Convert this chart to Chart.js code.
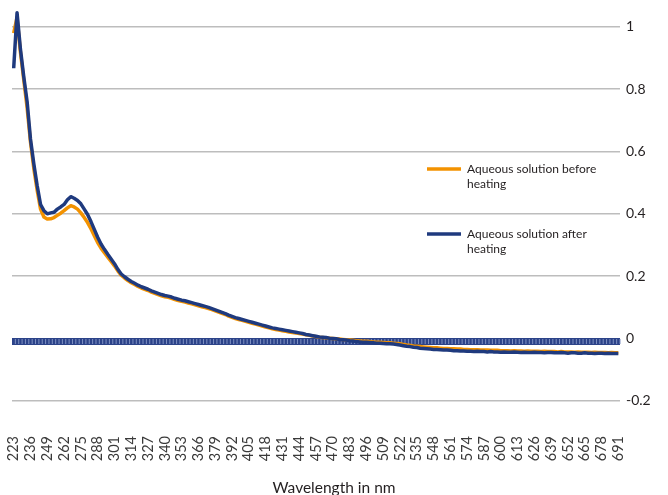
<!DOCTYPE html>
<html>
<head>
<meta charset="utf-8">
<script src="https://cdn.jsdelivr.net/npm/chart.js@4/dist/chart.umd.min.js"></script>
<style>
    html, body { margin: 0; padding: 0; background: #fff; }
    #wrap { width: 668px; height: 495px; }
</style>
</head>
<body>
<div id="wrap"><canvas id="spectrumChart" width="668" height="495"></canvas></div>
<script>
// Data

// categories: one reading every 2.6 nm from 223 to 691
const wavelengths = Array.from({ length: 181 }, (_, i) => Math.round((223 + i * 2.6) * 10) / 10);

// labels the axis shows (every 5th category)
const tickLabels = [223, 236, 249, 262, 275, 288, 301, 314, 327, 340, 353, 366, 379, 392, 405, 418, 431,
    444, 457, 470, 483, 496, 509, 522, 535, 548, 561, 574, 587, 600, 613, 626, 639, 652, 665, 678, 691];

const yTicks = [-0.2, 0, 0.2, 0.4, 0.6, 0.8, 1];

const seriesNames = ['Aqueous solution before heating', 'Aqueous solution after heating'];
const xTitle = 'Wavelength in nm';

const beforeHeating = [
    0.98, 1.03, 0.92, 0.83, 0.74, 0.63, 0.545, 0.475, 0.415, 0.39,
    0.383, 0.384, 0.388, 0.395, 0.402, 0.41, 0.419, 0.426, 0.422, 0.415,
    0.403, 0.388, 0.372, 0.352, 0.33, 0.308, 0.29, 0.275, 0.261, 0.247,
    0.233, 0.217, 0.203, 0.194, 0.186, 0.179, 0.173, 0.167, 0.162, 0.158,
    0.154, 0.149, 0.145, 0.141, 0.137, 0.134, 0.132, 0.129, 0.125, 0.122,
    0.119, 0.117, 0.114, 0.111, 0.108, 0.105, 0.102, 0.099, 0.096, 0.093,
    0.089, 0.085, 0.081, 0.077, 0.072, 0.068, 0.064, 0.061, 0.058, 0.055,
    0.052, 0.049, 0.046, 0.043, 0.040, 0.037, 0.034, 0.031, 0.029, 0.027,
    0.025, 0.023, 0.021, 0.019, 0.018, 0.016, 0.014, 0.012, 0.010, 0.008,
    0.006, 0.004, 0.003, 0.002, 0.001, 0.000, -0.001, -0.002, -0.003, -0.004,
    -0.005, -0.006, -0.007, -0.008, -0.009, -0.009, -0.010, -0.011, -0.012, -0.012,
    -0.013, -0.014, -0.014, -0.015, -0.016, -0.017, -0.019, -0.021, -0.022, -0.024,
    -0.025, -0.026, -0.027, -0.028, -0.029, -0.030, -0.030, -0.031, -0.032, -0.032,
    -0.033, -0.033, -0.034, -0.034, -0.035, -0.035, -0.036, -0.036, -0.036, -0.037,
    -0.037, -0.037, -0.038, -0.038, -0.038, -0.039, -0.039, -0.039, -0.040, -0.039,
    -0.040, -0.040, -0.041, -0.040, -0.041, -0.041, -0.041, -0.042, -0.041, -0.042,
    -0.042, -0.042, -0.043, -0.042, -0.043, -0.043, -0.043, -0.044, -0.043, -0.044,
    -0.044, -0.044, -0.045, -0.044, -0.045, -0.045, -0.045, -0.046, -0.045, -0.046, -0.046
];

const afterHeating = [
    0.867, 1.045, 0.93, 0.84, 0.76, 0.64, 0.56, 0.49, 0.43, 0.41,
    0.40, 0.403, 0.405, 0.415, 0.422, 0.43, 0.445, 0.455, 0.45, 0.443,
    0.432, 0.415, 0.398, 0.375, 0.35, 0.325, 0.303, 0.286, 0.27, 0.255,
    0.24, 0.222, 0.207, 0.198, 0.19, 0.183, 0.177, 0.171, 0.166, 0.162,
    0.158, 0.153, 0.149, 0.145, 0.141, 0.138, 0.136, 0.133, 0.129, 0.126,
    0.123, 0.121, 0.118, 0.115, 0.112, 0.109, 0.106, 0.103, 0.100, 0.096,
    0.092, 0.088, 0.084, 0.080, 0.075, 0.071, 0.067, 0.064, 0.061, 0.058,
    0.055, 0.052, 0.049, 0.046, 0.043, 0.040, 0.037, 0.034, 0.032, 0.030,
    0.028, 0.026, 0.024, 0.022, 0.020, 0.018, 0.016, 0.013, 0.011, 0.009,
    0.007, 0.005, 0.004, 0.003, 0.001, 0.000, -0.001, -0.003, -0.004, -0.005,
    -0.007, -0.008, -0.010, -0.011, -0.012, -0.012, -0.013, -0.014, -0.015, -0.015,
    -0.016, -0.017, -0.017, -0.018, -0.019, -0.021, -0.023, -0.025, -0.026, -0.028,
    -0.029, -0.031, -0.032, -0.033, -0.034, -0.035, -0.035, -0.036, -0.037, -0.037,
    -0.038, -0.039, -0.039, -0.040, -0.040, -0.041, -0.041, -0.042, -0.041, -0.042,
    -0.042, -0.043, -0.042, -0.043, -0.043, -0.044, -0.043, -0.044, -0.044, -0.043,
    -0.044, -0.045, -0.044, -0.045, -0.045, -0.044, -0.045, -0.045, -0.046, -0.045,
    -0.045, -0.046, -0.046, -0.045, -0.046, -0.047, -0.046, -0.046, -0.047, -0.047,
    -0.046, -0.047, -0.047, -0.048, -0.047, -0.047, -0.048, -0.047, -0.048, -0.048, -0.048
];

const ORANGE = '#f39200';
const NAVY = '#1f3a7e';
const TEXT = '#231f20';
const FONT = 'Lato, "Open Sans", sans-serif';

// striped band along the zero line (axis line with a tick for every category)
const zeroBand = {
    id: 'zeroBand',
    beforeDatasetsDraw(chart) {
        const { ctx, chartArea, scales: { x, y } } = chart;
        const y0 = Math.round(y.getPixelForValue(0));
        const h = 7;
        ctx.save();
        ctx.fillStyle = '#2c4389';
        ctx.fillRect(chartArea.left, y0, chartArea.right - chartArea.left, h);
        const step = (chartArea.right - chartArea.left) / wavelengths.length;
        ctx.fillStyle = '#7e90c2';
        for (let i = 0; i < wavelengths.length; i++) {
            const px = x.getPixelForValue(i) + step / 2 - 0.5;
            ctx.fillRect(px, y0 + 1, 1, h - 2);
        }
        ctx.restore();
    }
};

// legend sitting inside the plot on the right, with wrapped labels,
// and the axis title centred on the whole picture
const sideLegend = {
    id: 'sideLegend',
    afterDraw(chart) {
        const { ctx, width, height } = chart;
        const rows = [169, 234];
        ctx.save();
        ctx.font = '12px ' + FONT;
        ctx.textBaseline = 'middle';
        chart.data.datasets.forEach((ds, i) => {
            const yy = rows[i];
            ctx.strokeStyle = ds.borderColor;
            ctx.lineWidth = 3.5;
            ctx.beginPath();
            ctx.moveTo(427, yy);
            ctx.lineTo(461, yy);
            ctx.stroke();

            // simple word wrap
            const words = ds.label.split(' ');
            const lines = [];
            let line = '';
            words.forEach(w => {
                const test = line ? line + ' ' + w : w;
                if (ctx.measureText(test).width > 140 && line) {
                    lines.push(line);
                    line = w;
                } else {
                    line = test;
                }
            });
            lines.push(line);

            ctx.fillStyle = TEXT;
            lines.forEach((l, j) => ctx.fillText(l, 467, yy + j * 15));
        });

        ctx.font = '15.5px ' + FONT;
        ctx.textAlign = 'center';
        ctx.fillText(xTitle, width / 2, height - 7);
        ctx.restore();
    }
};

const spectrumChart = document.getElementById('spectrumChart');

const chart = new Chart(spectrumChart, {
    type: 'line',
    data: {
        labels: wavelengths,
        datasets: [
            {
                label: seriesNames[0],
                data: beforeHeating,
                borderColor: ORANGE,
                borderWidth: 3.5,
                pointRadius: 0,
                tension: 0,
                borderJoinStyle: 'round',
                order: 2,
            },
            {
                label: seriesNames[1],
                data: afterHeating,
                borderColor: NAVY,
                borderWidth: 3.5,
                pointRadius: 0,
                tension: 0,
                borderJoinStyle: 'round',
                order: 1,
            },
        ],
    },
    options: {
        responsive: false,
        animation: false,
        layout: { padding: { top: 0, left: 12, right: 0, bottom: 0 } },
        plugins: {
            legend: { display: false },
            tooltip: { enabled: false },
        },
        scales: {
            x: {
                type: 'category',
                offset: true,
                grid: { display: false, drawTicks: false },
                border: { display: false },
                ticks: {
                    autoSkip: false,
                    minRotation: 90,
                    maxRotation: 90,
                    padding: 4,
                    color: '#3a3a3a',
                    font: { family: FONT, size: 14.5 },
                    callback: (value, index) => index % 5 === 0 ? String(tickLabels[index / 5]) : '',
                },
                afterFit: scale => {
                    scale.height = 63;
                    scale.paddingLeft = 0;
                    scale.paddingRight = 0;
                },
            },
            y: {
                position: 'right',
                min: -0.3,
                max: 1.086,
                grid: { color: '#bdbdbd', lineWidth: 1.5, drawTicks: false },
                border: { display: false },
                ticks: {
                    padding: 6,
                    color: TEXT,
                    font: { family: FONT, size: 14 },
                    callback: value => String(value),
                },
                afterBuildTicks: scale => {
                    scale.ticks = yTicks.map(v => ({ value: v }));
                },
                afterFit: scale => {
                    scale.width = 48;
                    scale.paddingTop = 0;
                    scale.paddingBottom = 0;
                },
            },
        },
    },
    plugins: [zeroBand, sideLegend],
});
</script>
</body>
</html>
